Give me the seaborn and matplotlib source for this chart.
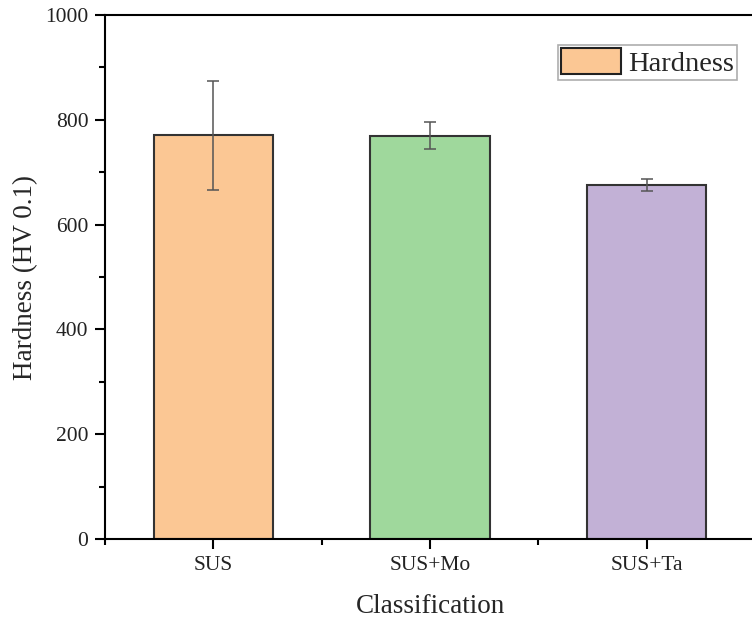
import pandas as pd
import matplotlib.pyplot as plt
import seaborn as sns
from matplotlib.ticker import MultipleLocator, FixedLocator
from matplotlib.patches import Patch

# values
groups = ['SUS', 'SUS+Mo', 'SUS+Ta']
hardness = [771, 770, 676]
errors = [104, 26, 12]
colors = ['#FBC794', '#9FD89C', '#C2B1D6']

df = pd.DataFrame({'Classification': groups, 'Hardness': hardness, 'err': errors})

sns.set_theme(style="ticks")
plt.rcParams['font.family'] = ['Liberation Serif', 'DejaVu Serif']

fig = plt.figure(figsize=(7.52, 6.21), dpi=100)
ax = fig.add_axes([0.1396, 0.132, 0.8645, 0.8438])

sns.barplot(data=df, x='Classification', y='Hardness', hue='Classification',
            palette=colors, saturation=1, width=0.55, edgecolor='#333333',
            linewidth=1.5, legend=False, ax=ax)
ax.errorbar(x=range(len(groups)), y=df['Hardness'], yerr=df['err'], fmt='none',
            ecolor='#555555', elinewidth=1.1, capsize=4, capthick=1.1)

ax.set_xlim(-0.5, 2.5)
ax.set_ylim(0, 1000)
ax.yaxis.set_major_locator(MultipleLocator(200))
ax.yaxis.set_minor_locator(MultipleLocator(100))
ax.xaxis.set_minor_locator(FixedLocator([-0.5, 0.5, 1.5]))

for side in ['left', 'bottom', 'top']:
    ax.spines[side].set_linewidth(1.5)
    ax.spines[side].set_color('black')
ax.spines['right'].set_visible(False)

ax.tick_params(axis='both', which='major', direction='out', length=7, width=1.5,
               labelsize=15.5, color='black', labelcolor='#222222', pad=5)
ax.tick_params(axis='both', which='minor', direction='out', length=4, width=1.5, color='black')

ax.set_xlabel('Classification', fontsize=19.5, labelpad=14)
ax.set_ylabel('Hardness (HV 0.1)', fontsize=19.5, labelpad=5)

handle = Patch(facecolor=colors[0], edgecolor='#222222', linewidth=1.5)
leg = ax.legend([handle], ['Hardness'], loc='upper right', bbox_to_anchor=(0.972, 0.943),
                fontsize=20.5, frameon=True, fancybox=False, handlelength=2.1,
                handleheight=1.05, handletextpad=0.25, borderpad=0.1, borderaxespad=0)
leg.get_frame().set_edgecolor('#999999')
leg.get_frame().set_linewidth(1.2)

plt.savefig('out.png', dpi=100)
print("Saved out.png")
